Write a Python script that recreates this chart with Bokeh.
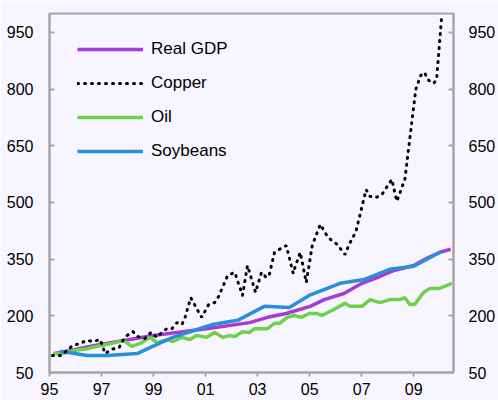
from bokeh.plotting import figure
from bokeh.models import Legend, LegendItem, LinearAxis, FixedTicker, Range1d
from bokeh.embed import file_html
from bokeh.resources import INLINE

# ---- data ----
gdp_x = [1995.15, 1996.95, 1998.98, 2001.04, 2002.69, 2003.38, 2004.10, 2005.02,
         2005.56, 2006.32, 2007.01, 2007.70, 2008.24, 2009.00, 2009.50, 2010.00, 2010.42]
gdp_y = [100, 124, 148, 166, 182, 196, 206, 225, 243, 259, 286, 304, 320, 333, 352, 368, 376]

copper_x = [1995.11, 1995.46, 1995.88, 1996.19, 1996.42, 1996.68, 1996.95, 1997.14, 1997.37,
            1997.68, 1997.79, 1997.98, 1998.21, 1998.40, 1998.67, 1998.90, 1999.13, 1999.32,
            1999.51, 1999.71, 1999.90, 2000.09, 2000.20, 2000.43, 2000.70, 2000.85, 2001.12,
            2001.35, 2001.50, 2001.85, 2002.12, 2002.42, 2002.61, 2002.92, 2003.15, 2003.34,
            2003.45, 2003.65, 2003.84, 2004.10, 2004.37, 2004.45, 2004.64, 2004.87, 2005.10,
            2005.41, 2005.71, 2006.06, 2006.36, 2006.52, 2006.78, 2007.17, 2007.32, 2007.55,
            2007.78, 2008.16, 2008.35, 2008.66, 2009.08, 2009.27, 2009.42, 2009.54, 2009.77,
            2009.88, 2010.07]
copper_y = [95, 95, 121, 127, 135, 132, 137, 100, 111,
            116, 132, 148, 158, 145, 140, 156, 143, 156,
            166, 166, 182, 177, 193, 248, 214, 196, 230,
            235, 251, 307, 315, 254, 333, 262, 315, 301,
            309, 368, 376, 386, 312, 331, 368, 288, 386,
            442, 407, 389, 362, 389, 423, 534, 516, 513,
            521, 561, 503, 561, 799, 836, 844, 825, 815,
            825, 987]

oil_x = [1995.15, 1995.50, 1995.92, 1996.45, 1996.95, 1997.52, 1997.83, 1998.18, 1998.48,
         1998.87, 1999.13, 1999.51, 1999.74, 2000.09, 2000.39, 2000.66, 2001.04, 2001.35,
         2001.66, 2001.92, 2002.12, 2002.42, 2002.69, 2002.88, 2003.38, 2003.65, 2003.84,
         2004.14, 2004.41, 2004.68, 2004.98, 2005.29, 2005.48, 2005.86, 2006.36, 2006.55,
         2007.01, 2007.32, 2007.70, 2008.08, 2008.47, 2008.66, 2008.85, 2009.04, 2009.38,
         2009.61, 2009.96, 2010.26, 2010.46]
oil_y = [100, 100, 108, 113, 121, 129, 135, 119, 127,
         143, 129, 137, 132, 143, 137, 148, 143, 156,
         143, 148, 145, 158, 156, 166, 166, 180, 180,
         196, 201, 196, 206, 206, 201, 214, 233, 225,
         225, 243, 235, 243, 243, 248, 230, 230, 262,
         272, 272, 280, 286]

soy_x = [1995.42, 1996.45, 1997.22, 1998.37, 1998.86, 1999.74, 2001.27, 2002.23, 2003.26,
         2004.22, 2004.98, 2006.17, 2007.09, 2008.08, 2009.00, 2010.07]
soy_y = [106, 95, 95, 100, 116, 143, 177, 188, 225,
         222, 254, 286, 296, 323, 331, 370]

y_ticks = [50, 200, 350, 500, 650, 800, 950]
x_ticks = [1995, 1997, 1999, 2001, 2003, 2005, 2007, 2009]
x_tick_labels = ["95", "97", "99", "01", "03", "05", "07", "09"]

BG = "#F7F5FF"
AXC = "#A6A6A6"
FONT = "Liberation Sans"

p = figure(width=498, height=400, output_backend="svg", toolbar_location=None,
           x_range=Range1d(1995, 2010.53), y_range=Range1d(50, 1000),
           min_border_left=49, min_border_right=43, min_border_top=13, min_border_bottom=28,
           background_fill_color=BG, border_fill_color=BG)
p.outline_line_color = AXC
p.outline_line_width = 2
p.xgrid.visible = False
p.ygrid.visible = False

r_gdp = p.line(gdp_x, gdp_y, line_color="#A93AD4", line_width=3.5)
r_oil = p.line(oil_x, oil_y, line_color="#6ED14A", line_width=3.5)
r_soy = p.line(soy_x, soy_y, line_color="#2A8FDB", line_width=3.5)
r_cu = p.line(copper_x, copper_y, line_color="#000000", line_width=3,
              line_dash="1 6", line_cap="round")

# axes
def style_axis(ax):
    ax.axis_line_color = AXC
    ax.axis_line_width = 2
    ax.major_tick_line_color = AXC
    ax.major_tick_line_width = 2
    ax.minor_tick_line_color = None
    ax.major_label_text_font = FONT
    ax.major_label_text_font_size = "16px"
    ax.major_label_text_color = "#000000"

yl = p.yaxis[0]
yl.ticker = FixedTicker(ticks=y_ticks)
yl.major_tick_in = 5
yl.major_tick_out = 0
yl.major_label_standoff = 16
style_axis(yl)

yr = LinearAxis(ticker=FixedTicker(ticks=y_ticks))
yr.major_tick_in = 5
yr.major_tick_out = 0
yr.major_label_standoff = 15
style_axis(yr)
p.add_layout(yr, "right")

xa = p.xaxis[0]
xa.ticker = FixedTicker(ticks=x_ticks)
xa.major_label_overrides = {t: s for t, s in zip(x_ticks, x_tick_labels)}
xa.major_tick_in = 0
xa.major_tick_out = 4
xa.major_label_standoff = 6
style_axis(xa)

legend = Legend(items=[LegendItem(label="Real GDP", renderers=[r_gdp]),
                       LegendItem(label="Copper", renderers=[r_cu]),
                       LegendItem(label="Oil", renderers=[r_oil]),
                       LegendItem(label="Soybeans", renderers=[r_soy])],
                location=(28, 211))
legend.background_fill_alpha = 0
legend.border_line_color = None
legend.padding = 0
legend.margin = 0
legend.spacing = 14
legend.glyph_width = 66
legend.glyph_height = 20
legend.label_height = 20
legend.label_standoff = 8
legend.label_text_font = FONT
legend.label_text_font_size = "17px"
legend.label_text_color = "#000000"
p.add_layout(legend)

open("out.html", "w").write(file_html(p, INLINE))
